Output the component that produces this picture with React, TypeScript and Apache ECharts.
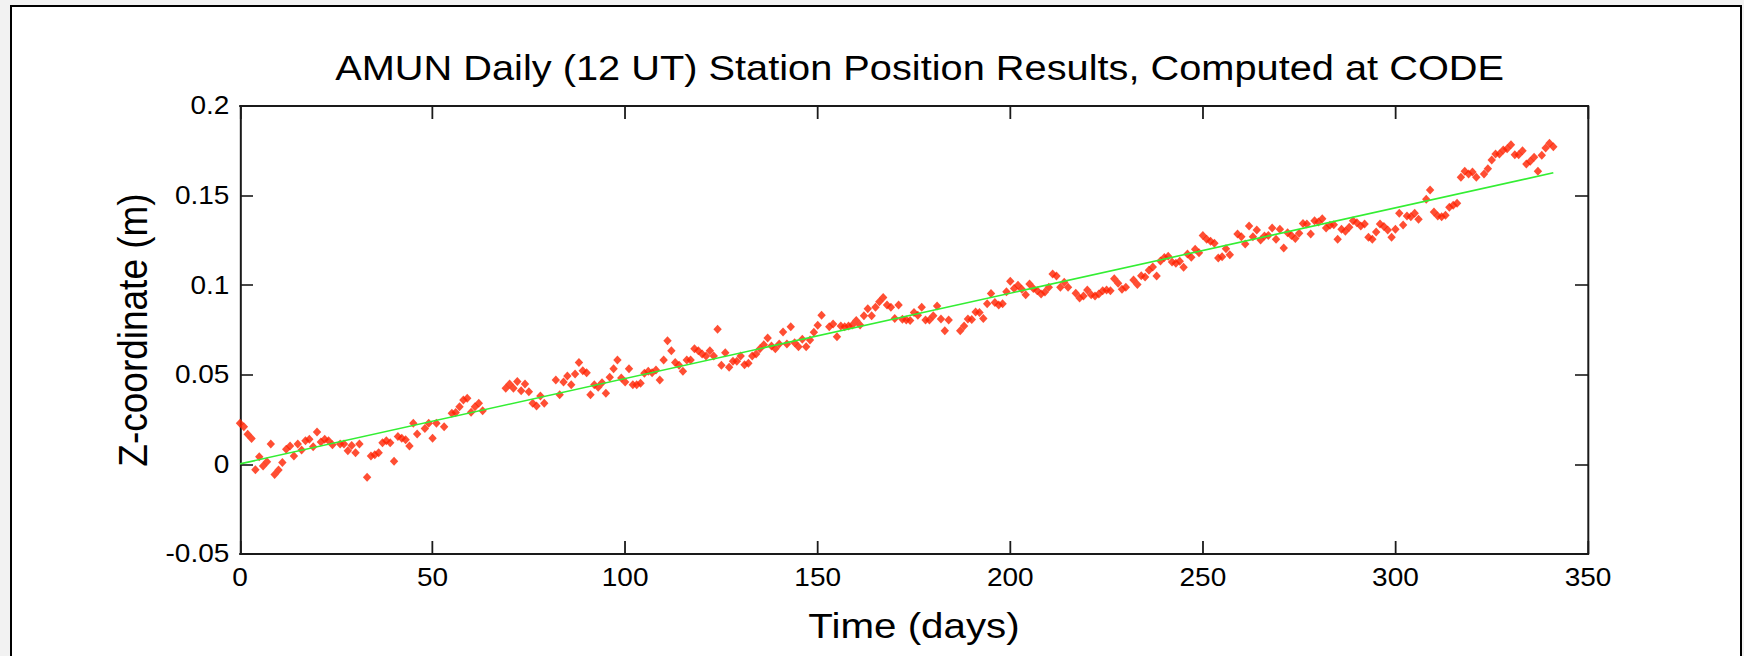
import React, { useEffect, useRef } from "react";
import * as echarts from "echarts";

const days = [
  0, 1, 2, 3, 4, 5, 6, 7, 8, 9, 10, 11, 12, 13, 14, 15, 16, 17, 18, 19, 20, 21, 22, 23, 24, 26, 27, 28, 29, 30, 31, 33, 34, 35, 36, 37, 38, 39, 40, 41, 42, 43, 44, 45, 46, 48, 49, 50, 51, 53, 55, 56, 57, 58, 59, 60, 61, 62, 63,
  69, 70, 71, 72, 73, 74, 75, 76, 77, 78, 79, 82, 83, 84, 85, 86, 87, 88, 89, 90, 91, 92, 93, 94, 95, 96, 97, 98, 99, 100,
  101, 102, 103, 104, 105, 106, 107, 108, 109, 110, 111, 112, 113, 114, 115, 116, 117, 118, 119, 120, 121, 122, 123, 124, 125,
  126, 127, 128, 129, 130, 131, 132, 133, 134, 135, 136, 137, 138, 139, 140, 141, 142, 143, 144, 145, 146, 147, 148, 149, 150,
  151, 153, 154, 155, 156, 157, 158, 159, 160, 161, 162, 163, 164, 165, 166, 167, 168, 169, 170, 171, 172, 173, 174, 175,
  176, 177, 178, 179, 180, 181, 182, 183, 184, 187, 188, 189, 190, 191, 192, 193, 194, 195, 196, 197, 198, 199, 200,
  201, 202, 203, 204, 205, 206, 207, 208, 209, 210, 211, 212, 213, 214, 215, 217, 218, 219, 220, 221, 222, 223, 224, 225,
  226, 227, 228, 229, 230, 232, 233, 234, 235, 236, 237, 238, 239, 240, 241, 242, 243, 244, 245, 246, 247, 248, 249, 250,
  251, 252, 253, 254, 255, 256, 257, 259, 260, 261, 262, 263, 264, 265, 266, 267, 268, 269, 270, 271, 272, 273, 274, 275,
  276, 277, 278, 279, 280, 281, 282, 283, 284, 285, 286, 287, 288, 289, 290, 291, 292, 293, 294, 295, 296, 297, 298, 299, 300,
  301, 302, 303, 304, 305, 306, 308, 309, 310, 311, 312, 313, 314, 315, 316, 317, 318, 319, 320, 321, 323, 324, 325,
  326, 327, 328, 329, 330, 331, 332, 333, 334, 335, 336, 337, 338, 339, 340, 341,
];

const zValues = [
  0.0229, 0.021, 0.0168, 0.0144, -0.003, 0.0043, -0.0009, 0.0015, 0.0114, -0.0057, -0.0031, 0.001, 0.0084, 0.0103, 0.0047, 0.0114, 0.008, 0.0132, 0.014, 0.0099, 0.0181, 0.0125, 0.014, 0.0132, 0.011, 0.0114, 0.0114, 0.0076, 0.0106, 0.0065, 0.0114, -0.0072, 0.0047, 0.0054, 0.0065, 0.0121, 0.0132, 0.0121, 0.0017, 0.0155, 0.0146, 0.0137, 0.0103, 0.0229, 0.017, 0.0201, 0.0229, 0.0146, 0.0229, 0.021, 0.0285, 0.0289, 0.0322, 0.0359, 0.0369, 0.0291, 0.0322, 0.0341, 0.03,
  0.0425, 0.0449, 0.0425, 0.0462, 0.0411, 0.0449, 0.0406, 0.0341, 0.0326, 0.0382, 0.0341, 0.0471, 0.0389, 0.046, 0.0493, 0.0445, 0.0504, 0.0568, 0.0523, 0.0512, 0.0389, 0.0445, 0.043, 0.0456, 0.0397, 0.0486, 0.0534, 0.0583, 0.0482, 0.046,
  0.0534, 0.0445, 0.0445, 0.0453, 0.0508, 0.052, 0.0512, 0.0527, 0.0471, 0.0583, 0.069, 0.0634, 0.0568, 0.0553, 0.052, 0.0583, 0.0583, 0.0646, 0.0634, 0.0616, 0.0605, 0.0634, 0.0605, 0.0754, 0.0553,
  0.0623, 0.0542, 0.0575, 0.0575, 0.0605, 0.0556, 0.0564, 0.0605, 0.0616, 0.0646, 0.0668, 0.0705, 0.0661, 0.0646, 0.0672, 0.0739, 0.0672, 0.0768, 0.0679, 0.0657, 0.0698, 0.0657, 0.0694, 0.0737, 0.0777,
  0.0833, 0.0768, 0.0783, 0.0713, 0.0772, 0.0768, 0.0772, 0.0778, 0.0803, 0.0778, 0.0829, 0.0869, 0.0829, 0.0877, 0.0908, 0.0932, 0.089, 0.0877, 0.0814, 0.089, 0.081, 0.0806, 0.0803, 0.0847,
  0.0832, 0.0877, 0.0806, 0.0806, 0.0829, 0.0884, 0.0811, 0.0746, 0.0806, 0.0746, 0.0772, 0.0811, 0.0808, 0.085, 0.0847, 0.0814, 0.0897, 0.0953, 0.0903, 0.089, 0.0897, 0.0964, 0.1022,
  0.0981, 0.1, 0.0977, 0.0947, 0.1006, 0.0981, 0.0969, 0.0951, 0.0962, 0.0988, 0.1062, 0.1051, 0.0988, 0.1017, 0.0988, 0.0955, 0.0929, 0.094, 0.0973, 0.0947, 0.094, 0.0951, 0.0969, 0.0973,
  0.0969, 0.1036, 0.1011, 0.0977, 0.0988, 0.1029, 0.1004, 0.1053, 0.1046, 0.1083, 0.1101, 0.1051, 0.1135, 0.1154, 0.1161, 0.1129, 0.1122, 0.1133, 0.11, 0.1174, 0.1156, 0.12, 0.1181, 0.1278,
  0.1256, 0.1245, 0.1234, 0.1152, 0.1159, 0.1204, 0.117, 0.1286, 0.127, 0.123, 0.133, 0.127, 0.1308, 0.1252, 0.1275, 0.1278, 0.1319, 0.1256, 0.1312, 0.1208, 0.1293, 0.1278, 0.126, 0.129,
  0.1345, 0.1342, 0.1286, 0.136, 0.1353, 0.1371, 0.1319, 0.1334, 0.1338, 0.1256, 0.1312, 0.1301, 0.1323, 0.136, 0.1349, 0.133, 0.1342, 0.1267, 0.1256, 0.1297, 0.1342, 0.1327, 0.1308, 0.1267, 0.1312,
  0.1401, 0.1336, 0.1386, 0.1382, 0.1401, 0.1368, 0.1479, 0.1531, 0.1408, 0.1386, 0.1382, 0.139, 0.1435, 0.1446, 0.1457, 0.1602, 0.1636, 0.1621, 0.1632, 0.1602, 0.1621, 0.165, 0.1699,
  0.1732, 0.1732, 0.1754, 0.1762, 0.1784, 0.1728, 0.1728, 0.175, 0.1676, 0.1691, 0.1714, 0.1636, 0.1725, 0.1766, 0.1792, 0.1773,
];

const trendDays = [0, 341];
const trendValues = [0.0003, 0.1627];

const titleText = "AMUN Daily (12 UT) Station Position Results, Computed at CODE";
const xName = "Time (days)";
const yName = "Z-coordinate (m)";

// The reference figure is horizontally stretched; draw at base width and stretch.
const K = 1.1201;
const W0 = 1557;
const H = 656;
const FONT = "'Liberation Sans', Arial, Helvetica, sans-serif";

export default function App() {
  const ref = useRef<HTMLDivElement>(null);

  useEffect(() => {
    if (!ref.current) return;
    const chart = echarts.init(ref.current, null, { renderer: "svg" });

    const points = days.map((d, i) => [d, zValues[i]]);
    const trend = trendDays.map((d, i) => [d, trendValues[i]]);

    const gridLeft = 240 / K;
    const gridRight = 1588 / K;
    const axisColor = "#1a1a1a";

    const xCommon = {
      type: "value" as const,
      min: 0,
      max: 350,
      interval: 50,
      splitLine: { show: false },
      axisLine: { show: true, onZero: false, lineStyle: { color: axisColor, width: 2 } },
      axisTick: { show: true, inside: true, length: 13, lineStyle: { color: axisColor, width: 1.6 } },
    };
    const yCommon = {
      type: "value" as const,
      min: -0.05,
      max: 0.2,
      interval: 0.05,
      splitLine: { show: false },
      axisLine: { show: true, onZero: false, lineStyle: { color: axisColor, width: 2 / K } },
      axisTick: { show: true, inside: true, length: 13 / K, lineStyle: { color: axisColor, width: 1.6 } },
    };

    chart.setOption({
      animation: false,
      backgroundColor: "transparent",
      textStyle: { fontFamily: FONT },
      title: {
        text: titleText,
        left: (gridLeft + gridRight) / 2,
        textAlign: "center",
        top: 45,
        textStyle: { fontFamily: FONT, fontSize: 35.5, fontWeight: "normal", color: "#000" },
      },
      grid: {
        left: gridLeft,
        top: 106,
        width: gridRight - gridLeft,
        height: 448,
        containLabel: false,
      },
      xAxis: [
        {
          ...xCommon,
          position: "bottom",
          name: xName,
          nameLocation: "middle",
          nameGap: 53,
          nameTextStyle: { fontFamily: FONT, fontSize: 36, color: "#000" },
          axisLabel: { show: true, fontFamily: FONT, fontSize: 25, color: "#000", margin: 11 },
        },
        {
          ...xCommon,
          position: "top",
          axisLabel: { show: false },
        },
      ],
      yAxis: [
        {
          ...yCommon,
          position: "left",
          name: yName,
          nameLocation: "middle",
          nameRotate: 90,
          nameGap: 70,
          nameTextStyle: { fontFamily: FONT, fontSize: 37, color: "#000" },
          axisLabel: {
            show: true,
            fontFamily: FONT,
            fontSize: 25,
            color: "#000",
            margin: 9.5,
            formatter: (v: number) => String(parseFloat(v.toFixed(2))),
          },
        },
        {
          ...yCommon,
          position: "right",
          axisLabel: { show: false },
        },
      ],
      series: [
        {
          type: "scatter",
          name: "Z",
          xAxisIndex: 0,
          yAxisIndex: 0,
          data: points,
          symbol: "diamond",
          symbolSize: [7.5, 9],
          itemStyle: { color: "#ff2200" },
          z: 2,
        },
        {
          type: "line",
          name: "trend",
          xAxisIndex: 0,
          yAxisIndex: 0,
          data: trend,
          showSymbol: false,
          symbol: "none",
          lineStyle: { color: "#33ee33", width: 1.6 },
          z: 3,
        },
      ],
    });

    return () => chart.dispose();
  }, []);

  return (
    <div
      style={{
        position: "fixed",
        left: 0,
        top: 0,
        width: 1744,
        height: H,
        overflow: "hidden",
        background: "#f2f2f2",
      }}
    >
      <div
        style={{
          position: "absolute",
          left: 10,
          top: 5,
          width: 1732,
          height: 720,
          boxSizing: "border-box",
          border: "2px solid #000",
          background: "#ffffff",
        }}
      />
      <div
        ref={ref}
        style={{
          position: "absolute",
          left: 0,
          top: 0,
          width: W0,
          height: H,
          transform: `scaleX(${K})`,
          transformOrigin: "0 0",
        }}
      />
    </div>
  );
}
